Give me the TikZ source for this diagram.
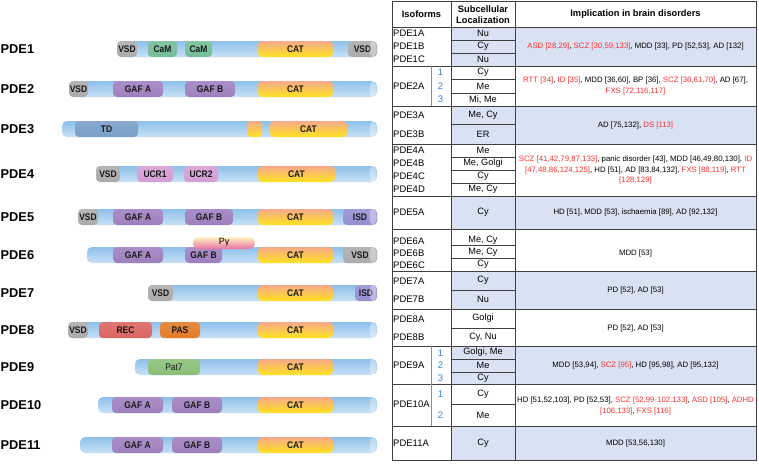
\documentclass[tikz,border=0pt]{standalone}
\usepackage{fontspec}
\setmainfont{Liberation Sans}
\newfontfamily\domfont[FakeStretch=0.88]{Liberation Sans}
\definecolor{barblue}{HTML}{B5D5F0}
\definecolor{bartop}{HTML}{8EC0EA}
\definecolor{barbot}{HTML}{C8E1F6}
\definecolor{vsdgrey}{HTML}{ABABAB}
\definecolor{camgreen}{HTML}{72BD96}
\definecolor{gafpurple}{HTML}{9E7FBF}
\definecolor{tdblue}{HTML}{789FC6}
\definecolor{ucrpink}{HTML}{D39DD3}
\definecolor{isdpurple}{HTML}{958FD3}
\definecolor{recred}{HTML}{DB6460}
\definecolor{pasorange}{HTML}{E27A25}
\definecolor{patgreen}{HTML}{8ABF76}
\definecolor{catorange}{HTML}{F8A98C}
\definecolor{catmid}{HTML}{FDC65A}
\definecolor{catyellow}{HTML}{FFE31F}
\definecolor{pgtop}{HTML}{FFF3C4}
\definecolor{pgbot}{HTML}{E870A0}
\definecolor{cellblue}{HTML}{D9E2F3}
\definecolor{refred}{HTML}{FF2E2E}
\definecolor{numblue}{HTML}{2E86DE}
\newcommand\pdebar[3]{%
  \shade[rounded corners=5pt, top color=bartop, middle color=barblue, bottom color=barbot] (#2,#3-8) rectangle (377,#3+8);
  \node[pdelab] (#1) at (0.5,#3) {#1};}
\newcommand\barcap[1]{\fill[white,opacity=0.35] (373,#1) ellipse (3.5 and 8);}
\newcommand\dom[6]{%
  \shade[rounded corners=4pt, top color=#4!88!white, bottom color=#4] (#1,#3-8) rectangle (#2,#3+8);
  \node[domlab] (#6) at ({(#1+#2)/2},#3) {#5};}
\newcommand\cat[4]{%
  \shade[rounded corners=4pt, top color=catorange, middle color=catmid, bottom color=catyellow] (#1,#3-8) rectangle (#2,#3+8);
  \node[domlab] (#4) at ({(#1+#2)/2},#3) {CAT};}
\newcommand\red[1]{\textcolor{refred}{#1}}
\begin{document}
\begin{tikzpicture}[x=1pt,y=-1pt,
  pdelab/.style={anchor=west, font=\fontsize{12.8}{14}\selectfont\bfseries, inner sep=0},
  domlab/.style={font=\domfont\bfseries\fontsize{9.6}{10}\selectfont, text=black!90, inner sep=0},
  iso/.style={anchor=west, font=\fontsize{9.5}{11}\selectfont, inner sep=0},
  loc/.style={font=\fontsize{9.2}{11}\selectfont, inner sep=0},
  dis/.style={font=\fontsize{7.8}{10.6}\selectfont, align=center, inner sep=0},
  hdr/.style={font=\fontsize{9.3}{11.4}\selectfont\bfseries, align=center, inner sep=0},
  num/.style={font=\fontsize{9.5}{11}\selectfont, text=numblue, inner sep=0},
  grid/.style={draw=black!75, line width=0.8pt},
  subgrid/.style={draw=black!45, line width=0.8pt}]
\useasboundingbox (0,0) rectangle (759,463);

% ---------- PDE1
\pdebar{PDE1}{117}{49}
\dom{117}{137}{49}{vsdgrey}{VSD}{v1a}
\dom{148}{177}{49}{camgreen}{CaM}{c1a}
\dom{185}{212}{49}{camgreen}{CaM}{c1b}
\cat{258}{333}{49}{k1}
\dom{348}{377}{49}{vsdgrey}{VSD\hspace{5pt}}{v1b}
\barcap{49}
% ---------- PDE2
\pdebar{PDE2}{69}{89}
\dom{69}{88}{89}{vsdgrey}{VSD}{v2}
\dom{113}{163}{89}{gafpurple}{GAF A}{g2a}
\dom{185}{235}{89}{gafpurple}{GAF B}{g2b}
\cat{258}{333}{89}{k2}
\barcap{89}
% ---------- PDE3
\pdebar{PDE3}{62}{129}
\dom{75}{138}{129}{tdblue}{TD}{t3}
\shade[rounded corners=4pt, top color=catorange, middle color=catmid, bottom color=catyellow] (247,121) rectangle (262,137);
\cat{270}{347}{129}{k3}
\barcap{129}
% ---------- PDE4
\pdebar{PDE4}{96}{174}
\dom{96}{120}{174}{vsdgrey}{VSD}{v4}
\dom{137}{173}{174}{ucrpink}{UCR1}{u4a}
\dom{184}{218}{174}{ucrpink}{UCR2}{u4b}
\cat{258}{335}{174}{k4}
\barcap{174}
% ---------- PDE5
\pdebar{PDE5}{78}{217}
\dom{78}{98}{217}{vsdgrey}{VSD}{v5}
\dom{113}{163}{217}{gafpurple}{GAF A}{g5a}
\dom{185}{233}{217}{gafpurple}{GAF B}{g5b}
\cat{258}{333}{217}{k5}
\dom{343}{377}{217}{isdpurple}{ISD\hspace{5pt}}{i5}
\barcap{217}
% ---------- PDE6
\pdebar{PDE6}{87}{255}
\dom{113}{163}{255}{gafpurple}{GAF A}{g6a}
\dom{185}{222}{255}{gafpurple}{GAF B}{g6b}
\cat{258}{333}{255}{k6}
\dom{343}{377}{255}{vsdgrey}{VSD\hspace{5pt}}{v6}
\barcap{255}
\shade[rounded corners=6pt, top color=pgtop, bottom color=pgbot] (193,237) rectangle (255,249);
\node[font=\fontsize{9}{10}\selectfont, inner sep=0] (pg) at (224,242.5) {Pγ};
% ---------- PDE7
\pdebar{PDE7}{148}{293}
\dom{148}{173}{293}{vsdgrey}{VSD}{v7}
\cat{258}{333}{293}{k7}
\dom{355}{377}{293}{isdpurple}{ISD\hspace{3pt}}{i7}
\barcap{293}
% ---------- PDE8
\pdebar{PDE8}{68}{330}
\dom{68}{88}{330}{vsdgrey}{VSD}{v8}
\dom{99}{152}{330}{recred}{REC}{r8}
\dom{160}{200}{330}{pasorange}{PAS}{p8}
\cat{258}{333}{330}{k8}
\barcap{330}
% ---------- PDE9
\pdebar{PDE9}{135}{367}
\dom{148}{200}{367}{patgreen}{\mdseries Pat7}{p9}
\cat{258}{333}{367}{k9}
\barcap{367}
% ---------- PDE10
\pdebar{PDE10}{98}{405}
\dom{112}{163}{405}{gafpurple}{GAF A}{g10a}
\dom{172}{222}{405}{gafpurple}{GAF B}{g10b}
\cat{258}{333}{405}{k10}
\barcap{405}
% ---------- PDE11
\pdebar{PDE11}{80}{445}
\dom{112}{163}{445}{gafpurple}{GAF A}{g11a}
\dom{172}{222}{445}{gafpurple}{GAF B}{g11b}
\cat{258}{333}{445}{k11}
\barcap{445}

% ================= TABLE
\fill[cellblue] (451,27) rectangle (756,66);
\fill[cellblue] (451,106) rectangle (756,144);
\fill[cellblue] (451,196) rectangle (756,229);
\fill[cellblue] (451,271) rectangle (756,309);
\fill[cellblue] (451,346) rectangle (756,384);
\fill[cellblue] (451,426) rectangle (756,460);
\foreach \yy in {27,66,106,144,196,229,271,309,346,384,426}
  \draw[grid] (392,\yy) -- (756,\yy);
\foreach \yy in {40,53,79,93,124,157,170,183,245,258,290,328,359,372,404}
  \draw[grid] (451,\yy) -- (515,\yy);
\draw[subgrid] (431,66) -- (431,106);
\draw[subgrid] (431,346) -- (431,426);
\draw[grid] (451,1) -- (451,460);
\draw[grid] (515,1) -- (515,460);
\draw[grid] (392,1) rectangle (756,460);

% header
\node[hdr] (h1) at (421.5,14.5) {Isoforms};
\node[hdr] (h2) at (483,14.5) {Subcellular\\Localization};
\node[hdr] (h3) at (635.5,14.5) {Implication in brain disorders};

% isoforms
\node[iso] (i1a) at (393,33.5) {PDE1A};
\node[iso] (i1b) at (393,46.5) {PDE1B};
\node[iso] (i1c) at (393,59.5) {PDE1C};
\node[iso] (i2) at (393,86.5) {PDE2A};
\node[iso] (i3a) at (393,115) {PDE3A};
\node[iso] (i3b) at (393,134) {PDE3B};
\node[iso] (i4a) at (393,150.5) {PDE4A};
\node[iso] (i4b) at (393,163.5) {PDE4B};
\node[iso] (i4c) at (393,176.5) {PDE4C};
\node[iso] (i4d) at (393,189.5) {PDE4D};
\node[iso] (i5) at (393,212.5) {PDE5A};
\node[iso] (i6a) at (393,241) {PDE6A};
\node[iso] (i6b) at (393,253.5) {PDE6B};
\node[iso] (i6c) at (393,265) {PDE6C};
\node[iso] (i7a) at (393,281) {PDE7A};
\node[iso] (i7b) at (393,299.5) {PDE7B};
\node[iso] (i8a) at (393,319) {PDE8A};
\node[iso] (i8b) at (393,337) {PDE8B};
\node[iso] (i9) at (393,365.5) {PDE9A};
\node[iso] (i10) at (393,404) {PDE10A};
\node[iso] (i11) at (393,443) {PDE11A};

% numbers
\node[num] (n2a) at (440.5,72.5) {1};
\node[num] (n2b) at (440.5,86.5) {2};
\node[num] (n2c) at (440.5,99.5) {3};
\node[num] (n9a) at (440.5,353) {1};
\node[num] (n9b) at (440.5,365.5) {2};
\node[num] (n9c) at (440.5,378.5) {3};
\node[num] (n10a) at (440.5,394.5) {1};
\node[num] (n10b) at (440.5,415.5) {2};

% localization
\node[loc] (l1a) at (483,33.5) {Nu};
\node[loc] (l1b) at (483,46.5) {Cy};
\node[loc] (l1c) at (483,59.5) {Nu};
\node[loc] (l2a) at (483,72.5) {Cy};
\node[loc] (l2b) at (483,86) {Me};
\node[loc] (l2c) at (483,99.5) {Mi, Me};
\node[loc] (l3a) at (483,115) {Me, Cy};
\node[loc] (l3b) at (483,134) {ER};
\node[loc] (l4a) at (483,150.5) {Me};
\node[loc] (l4b) at (483,163.5) {Me, Golgi};
\node[loc] (l4c) at (483,176.5) {Cy};
\node[loc] (l4d) at (483,189.5) {Me, Cy};
\node[loc] (l5) at (483,212.5) {Cy};
\node[loc] (l6a) at (483,240.5) {Me, Cy};
\node[loc] (l6b) at (483,252.5) {Me, Cy};
\node[loc] (l6c) at (483,264.5) {Cy};
\node[loc] (l7a) at (483,280.5) {Cy};
\node[loc] (l7b) at (483,299.5) {Nu};
\node[loc] (l8a) at (483,318.5) {Golgi};
\node[loc] (l8b) at (483,337) {Cy, Nu};
\node[loc] (l9a) at (483,352.5) {Golgi, Me};
\node[loc] (l9b) at (483,365.5) {Me};
\node[loc] (l9c) at (483,378.5) {Cy};
\node[loc] (l10a) at (483,394) {Cy};
\node[loc] (l10b) at (483,415) {Me};
\node[loc] (l11) at (483,443) {Cy};

% disorders
\node[dis] (d1) at (635.5,46.5) {\red{ASD [28,29]}, \red{SCZ [30,59,133]}, MDD [33], PD [52,53], AD [132]};
\node[dis] (d2) at (635.5,86) {\red{RTT [34]}, \red{ID [35]}, MDD [36,60], BP [36], \red{SCZ [36,61,70]}, AD [67],\\\red{FXS [72,116,117]}};
\node[dis] (d3) at (635.5,125) {AD [75,132], \red{DS [113]}};
\node[dis] (d4) at (635.5,170) {\red{SCZ [41,42,79,87,133]}, panic disorder [43], MDD [46,49,80,130], \red{ID}\\\red{[47,48,86,124,125]}, HD [51], AD [83,84,132], \red{FXS [88,119]}, \red{RTT}\\\red{[128,129]}};
\node[dis] (d5) at (635.5,212.5) {HD [51], MDD [53], ischaemia [89], AD [92,132]};
\node[dis] (d6) at (635.5,253) {MDD [53]};
\node[dis] (d7) at (635.5,290) {PD [52], AD [53]};
\node[dis] (d8) at (635.5,328) {PD [52], AD [53]};
\node[dis] (d9) at (635.5,365.5) {MDD [53,94], \red{SCZ [95]}, HD [95,98], AD [95,132]};
\node[dis] (d10) at (635.5,406) {HD [51,52,103], PD [52,53], \red{SCZ [52,99-102,133]}, \red{ASD [105]}, \red{ADHD}\\\red{[106,133]}, \red{FXS [116]}};
\node[dis] (d11) at (635.5,443) {MDD [53,56,130]};
\end{tikzpicture}
\end{document}
